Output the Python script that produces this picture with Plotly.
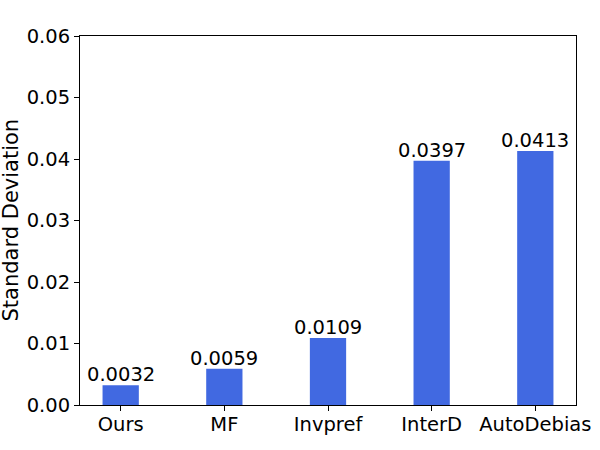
import plotly.graph_objects as go

# Standard deviation per method
methods = ["Ours", "MF", "Invpref", "InterD", "AutoDebias"]
std_values = [0.0032, 0.0059, 0.0109, 0.0397, 0.0413]
y_ticks = [0.00, 0.01, 0.02, 0.03, 0.04, 0.05, 0.06]

font_family = "DejaVu Sans"
fs = 19.5

fig = go.Figure()
fig.add_trace(go.Bar(
    x=list(range(len(methods))),
    y=std_values,
    width=0.35,
    marker=dict(color="#4169E1", line=dict(width=0)),
    showlegend=False,
))

# value labels above the bars
for i, v in enumerate(std_values):
    fig.add_annotation(x=i, y=v, text=f"{v:.4f}", showarrow=False,
                       xanchor="center", yanchor="bottom", yshift=-3,
                       font=dict(size=fs, color="black", family=font_family))

# y axis label
fig.add_annotation(x=-70 / 496, y=0.5, xref="paper", yref="paper",
                   text="Standard Deviation", textangle=-90, showarrow=False,
                   xanchor="center", yanchor="middle",
                   font=dict(size=21, color="black", family=font_family))

fig.update_layout(
    width=600, height=450,
    margin=dict(l=80, r=24, t=36, b=45),
    plot_bgcolor="white",
    paper_bgcolor="white",
    font=dict(family=font_family, size=fs, color="black"),
    xaxis=dict(
        range=[-0.3925, 4.3925],
        tickvals=list(range(len(methods))),
        ticktext=methods,
        showgrid=False, zeroline=False,
        showline=True, linecolor="black", linewidth=1, mirror=True,
        ticks="outside", ticklen=5, tickcolor="black",
        tickfont=dict(size=fs),
        ticklabelstandoff=-3,
        automargin=False,
    ),
    yaxis=dict(
        range=[0, 0.06],
        tickvals=y_ticks,
        tickformat=".2f",
        showgrid=False, zeroline=False,
        showline=True, linecolor="black", linewidth=1, mirror=True,
        ticks="outside", ticklen=5, tickcolor="black",
        tickfont=dict(size=fs),
        automargin=False,
    ),
)

# drop the default page margin so the figure sits at the window's corner
fig.write_html("out.html", config={"displayModeBar": False},
               post_script="document.body.style.margin='0';")
